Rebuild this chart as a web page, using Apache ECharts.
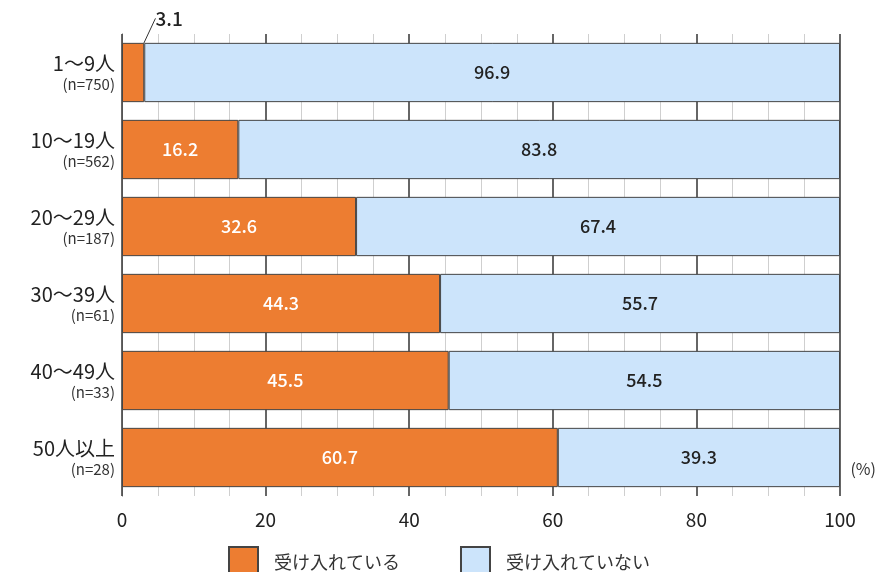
<!DOCTYPE html>
<html><head><meta charset="utf-8">
<script src="https://cdn.jsdelivr.net/npm/echarts@6/dist/echarts.min.js"></script>
<style>html,body{margin:0;padding:0;background:#fff}#c{width:885px;height:572px}</style>
</head><body><div id="c"></div>
<script>
const groups = ['1～9人','10～19人','20～29人','30～39人','40～49人','50人以上'];
const counts = ['n=750','n=562','n=187','n=61','n=33','n=28'];
const accepting = [3.1, 16.2, 32.6, 44.3, 45.5, 60.7];
const notAccepting = [96.9, 83.8, 67.4, 55.7, 54.5, 39.3];
const seriesNames = ['受け入れている','受け入れていない'];
const xTicks = [0, 20, 40, 60, 80, 100];

const FONT = '"Noto Sans CJK JP", "Noto Sans", sans-serif';
const cats = groups.map((g,i)=> g + '\n(' + counts[i] + ')');

const chart = echarts.init(document.getElementById('c'));
chart.setOption({
  animation: false,
  textStyle: {fontFamily: FONT},
  grid: {left: 122, right: 45, top: 34, bottom: 76},
  title: {text: '(%)', right: 4, top: 456, textStyle: {fontSize: 16, fontWeight: 'normal', color: '#333', fontFamily: FONT}},
  legend: {
    top: 546, left: 228, padding: 0, icon: 'rect', itemWidth: 29, itemHeight: 30, itemGap: 60,
    textStyle: {fontSize: 18, color: '#333', fontFamily: FONT, padding: [0,0,0,11]},
    data: seriesNames
  },
  xAxis: {
    type: 'value', min: xTicks[0], max: xTicks[xTicks.length-1], interval: 20,
    axisLine: {show: false}, axisTick: {show: false},
    axisLabel: {fontSize: 19, color: '#222', margin: 14, fontFamily: FONT},
    splitLine: {show: true, lineStyle: {color: '#333', width: 1.5}},
    minorTick: {show: false, splitNumber: 4},
    minorSplitLine: {show: true, lineStyle: {color: '#cfcfcf', width: 1}}
  },
  yAxis: {
    type: 'category', inverse: true, data: cats,
    axisLine: {show: true, lineStyle: {color: '#555', width: 1}},
    axisTick: {show: false},
    axisLabel: {
      margin: 7,
      formatter: (v)=>{ const p = v.split('\n'); return '{a|' + p[0] + '}\n{b|' + p[1] + '}'; },
      rich: {
        a: {fontSize: 20, color: '#222', align: 'right', lineHeight: 24, fontFamily: FONT},
        b: {fontSize: 15, color: '#333', align: 'right', lineHeight: 19, fontFamily: FONT}
      }
    }
  },
  series: [
    {
      name: seriesNames[0], type: 'bar', stack: 's', barWidth: '77%',
      itemStyle: {color: '#ED7D31', borderColor: '#444', borderWidth: 1},
      label: {show: true, position: 'inside', color: '#fff', fontSize: 18, fontWeight: 500, fontFamily: FONT,
              formatter: p => p.value.toFixed(1)},
      labelLine: {show: true, lineStyle: {color: '#333', width: 1}},
      labelLayout: (p) => p.dataIndex === 0 ? {dx: 36, dy: -10} : {},
      data: accepting.map((v,i)=> i === 0 ? {value: v, label: {position: 'top', color: '#222', fontSize: 19}} : v)
    },
    {
      name: seriesNames[1], type: 'bar', stack: 's',
      itemStyle: {color: '#CCE4FB', borderColor: '#444', borderWidth: 1},
      label: {show: true, position: 'inside', color: '#222', fontSize: 18, fontWeight: 500, fontFamily: FONT,
              formatter: p => p.value.toFixed(1)},
      data: notAccepting
    }
  ]
});
</script></body></html>
